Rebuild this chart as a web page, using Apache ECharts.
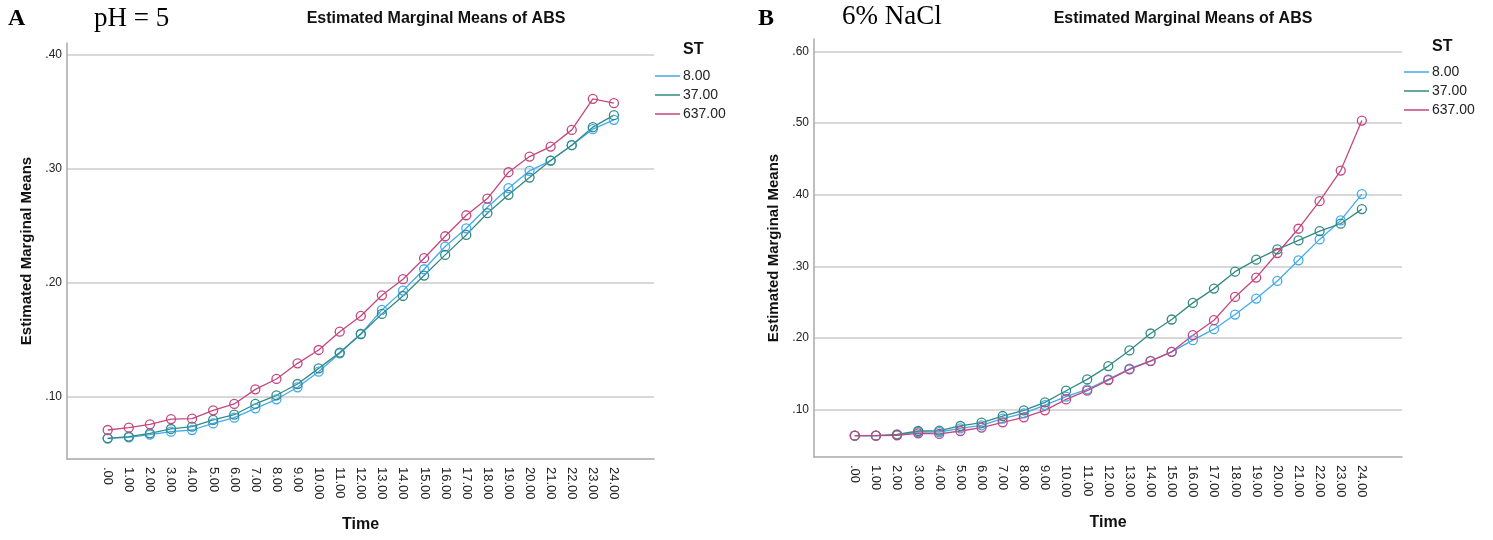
<!DOCTYPE html>
<html>
<head>
<meta charset="utf-8">
<script src="https://cdn.jsdelivr.net/npm/echarts@6/dist/echarts.min.js"></script>
<style>
  html, body { margin: 0; padding: 0; background: #fff; }
  #absChart { width: 1493px; height: 540px; }
</style>
</head>
<body>
<div id="absChart"></div>
<script>
// time points (x)
const times = [0, 1, 2, 3, 4, 5, 6, 7, 8, 9, 10, 11, 12, 13, 14, 15, 16, 17, 18, 19, 20, 21, 22, 23, 24];
const stNames = ["8.00", "37.00", "637.00"];

// panel A: pH = 5
const phBlue = [0.0638, 0.0647, 0.0670, 0.0696, 0.0711, 0.0769, 0.0819, 0.0901, 0.0980, 0.1085, 0.1222, 0.1383, 0.1552, 0.1763, 0.1932, 0.2119, 0.2318, 0.2478, 0.2662, 0.2829, 0.2981, 0.3071, 0.3206, 0.3346, 0.3428];
const phTeal = [0.0638, 0.0653, 0.0682, 0.0720, 0.0740, 0.0799, 0.0845, 0.0939, 0.1015, 0.1114, 0.1251, 0.1389, 0.1552, 0.1728, 0.1885, 0.2064, 0.2245, 0.2420, 0.2610, 0.2771, 0.2922, 0.3071, 0.3206, 0.3364, 0.3469];
const phPink = [0.0711, 0.0731, 0.0761, 0.0807, 0.0810, 0.0883, 0.0939, 0.1067, 0.1158, 0.1295, 0.1412, 0.1572, 0.1710, 0.1891, 0.2032, 0.2216, 0.2408, 0.2592, 0.2738, 0.2969, 0.3106, 0.3194, 0.3340, 0.3612, 0.3574];

// panel B: 6% NaCl
const naclBlue = [0.0638, 0.0638, 0.0648, 0.0689, 0.0689, 0.0740, 0.0782, 0.0875, 0.0949, 0.1065, 0.1182, 0.1284, 0.1423, 0.1572, 0.1683, 0.1808, 0.1971, 0.2124, 0.2328, 0.2551, 0.2797, 0.3085, 0.3377, 0.3642, 0.4009];
const naclTeal = [0.0638, 0.0638, 0.0657, 0.0703, 0.0708, 0.0773, 0.0819, 0.0912, 0.0991, 0.1103, 0.1265, 0.1423, 0.1609, 0.1827, 0.2064, 0.2259, 0.2491, 0.2690, 0.2927, 0.3094, 0.3238, 0.3363, 0.3493, 0.3596, 0.3800];
const naclPink = [0.0638, 0.0638, 0.0643, 0.0671, 0.0662, 0.0703, 0.0750, 0.0824, 0.0894, 0.0991, 0.1144, 0.1265, 0.1414, 0.1562, 0.1678, 0.1808, 0.2040, 0.2249, 0.2574, 0.2844, 0.3187, 0.3526, 0.3911, 0.4338, 0.5035];

// y tick labels
const yTicksA = [0.1, 0.2, 0.3, 0.4];
const yTicksB = [0.1, 0.2, 0.3, 0.4, 0.5, 0.6];

const colors = ["#42aaee", "#338a84", "#c4477f"];
const axisGray = "#a8a8a8";
const gridGray = "#cbcbcb";

function fmtTick(v) {
  return v === 0 ? ".00" : v.toFixed(2).replace(/^0/, "");
}

function xAxisFor(gi) {
  return {
    type: "value",
    gridIndex: gi,
    min: -1.93,
    max: 25.9,
    name: "Time",
    nameLocation: "middle",
    nameGap: 58,
    nameTextStyle: { fontWeight: "bold", fontSize: 16, color: "#111" },
    axisLine: { onZero: false, lineStyle: { color: axisGray, width: 1.5 } },
    axisTick: { show: false },
    splitLine: { show: false },
    axisLabel: {
      customValues: times,
      rotate: -90,
      margin: 8,
      fontSize: 13,
      color: "#222",
      formatter: fmtTick,
    },
  };
}

function yAxisFor(gi, min, max, ticks) {
  return {
    type: "value",
    gridIndex: gi,
    min: min,
    max: max,
    name: "Estimated Marginal Means",
    nameLocation: "middle",
    nameGap: 33,
    nameTextStyle: { fontWeight: "bold", fontSize: 15, color: "#111" },
    axisLine: { show: true, onZero: false, lineStyle: { color: axisGray, width: 1.5 } },
    axisTick: { show: false },
    splitLine: {
      show: true,
      showMinLine: false,
      showMaxLine: false,
      lineStyle: { color: gridGray, width: 1.5 },
    },
    axisLabel: {
      customValues: ticks,
      margin: 5,
      fontSize: 12,
      color: "#222",
      formatter: fmtTick,
    },
  };
}

function lineSeries(name, values, color, gi) {
  return {
    name: name,
    type: "line",
    xAxisIndex: gi,
    yAxisIndex: gi,
    data: times.map((t, i) => [t, values[i]]),
    symbol: "circle",
    symbolSize: 9,
    lineStyle: { color: color, width: 1.3 },
    itemStyle: { color: "transparent", borderColor: color, borderWidth: 1.3 },
    emphasis: { disabled: true },
  };
}

function legendFor(left, top) {
  return {
    orient: "vertical",
    left: left,
    top: top,
    padding: 0,
    icon: "rect",
    itemWidth: 25,
    itemHeight: 1.5,
    itemGap: 5,
    textStyle: { fontSize: 14, color: "#222", padding: [0, 0, 0, -2] },
    data: stNames.map((n, i) => ({
      name: n,
      itemStyle: { color: colors[i], borderWidth: 0 },
    })),
  };
}

function chartInit() {
  let myChart = echarts.init(document.getElementById("absChart"));
  const serif = "Liberation Serif";
  let options = {
    animation: false,
    textStyle: { fontFamily: "Liberation Sans" },
    title: [
      { text: "A", left: 8, top: 7, padding: 0, textStyle: { fontFamily: serif, fontWeight: "bold", fontSize: 24, color: "#000" } },
      { text: "pH = 5", left: 94, top: 5, padding: 0, textStyle: { fontFamily: serif, fontWeight: "normal", fontSize: 27, color: "#000" } },
      { text: "Estimated Marginal Means of ABS", left: 436, textAlign: "center", top: 11, padding: 0, textStyle: { fontWeight: "bold", fontSize: 16, color: "#111" } },
      { text: "ST", left: 683, top: 42, padding: 0, textStyle: { fontWeight: "bold", fontSize: 16, color: "#111" } },
      { text: "B", left: 758, top: 7, padding: 0, textStyle: { fontFamily: serif, fontWeight: "bold", fontSize: 24, color: "#000" } },
      { text: "6% NaCl", left: 842, top: 3, padding: 0, textStyle: { fontFamily: serif, fontWeight: "normal", fontSize: 27, color: "#000" } },
      { text: "Estimated Marginal Means of ABS", left: 1183, textAlign: "center", top: 11, padding: 0, textStyle: { fontWeight: "bold", fontSize: 16, color: "#111" } },
      { text: "ST", left: 1432, top: 39, padding: 0, textStyle: { fontWeight: "bold", fontSize: 16, color: "#111" } },
    ],
    legend: [legendFor(655, 69), legendFor(1404, 65)],
    grid: [
      { left: 67, right: 839, top: 43, bottom: 81 },
      { left: 814, right: 91, top: 39, bottom: 83 },
    ],
    xAxis: [xAxisFor(0), xAxisFor(1)],
    yAxis: [
      yAxisFor(0, 0.0457, 0.4101, yTicksA),
      yAxisFor(1, 0.034, 0.6174, yTicksB),
    ],
    series: [
      lineSeries(stNames[0], phBlue, colors[0], 0),
      lineSeries(stNames[1], phTeal, colors[1], 0),
      lineSeries(stNames[2], phPink, colors[2], 0),
      lineSeries(stNames[0], naclBlue, colors[0], 1),
      lineSeries(stNames[1], naclTeal, colors[1], 1),
      lineSeries(stNames[2], naclPink, colors[2], 1),
    ],
  };
  myChart.setOption(options);
}

chartInit();
</script>
</body>
</html>
